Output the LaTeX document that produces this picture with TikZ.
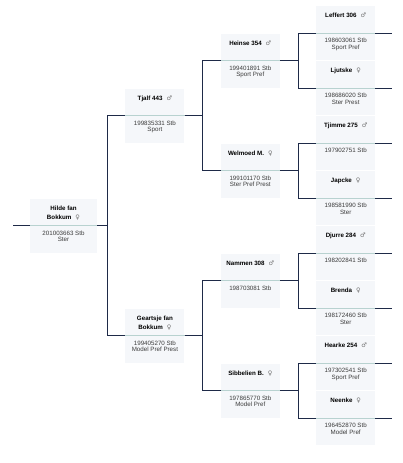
\documentclass[tikz,border=0pt]{standalone}
\usepackage{fontspec}
\setmainfont{Liberation Sans}
\newfontfamily\symfont{DejaVu Sans}
\usetikzlibrary{positioning}
\definecolor{cardbg}{RGB}{245,247,250}
\definecolor{rulecol}{RGB}{184,210,208}
\definecolor{navy}{RGB}{30,42,72}
\definecolor{sexgrey}{RGB}{110,110,110}
\definecolor{subtext}{RGB}{60,60,60}
\newcommand{\sexm}{\hspace{4pt}{\symfont\mdseries\color{sexgrey}♂}}
\newcommand{\sexf}{\hspace{4pt}{\symfont\mdseries\color{sexgrey}♀}}

\begin{document}
\begin{tikzpicture}[x=1pt, y=-1pt,
   card/.style={rectangle, fill=cardbg, minimum width=59pt, minimum height=54pt,
                inner sep=0pt},
   nm/.style={anchor=north, yshift=-4pt, align=center, text=black,
              font=\fontsize{6.2}{9}\selectfont\bfseries},
   sub/.style={anchor=north, yshift=-29pt, align=center, text=subtext,
               font=\fontsize{6.2}{6.2}\selectfont},
   link/.style={draw=navy, line width=0.8pt},
   divider/.style={draw=rulecol, line width=0.8pt}]
  \useasboundingbox (0,0) rectangle (402,463);

  % generation 0
  \coordinate (root) at (13,225.5);
  \node[card, minimum width=67pt, label={[nm]north:Hilde fan\\Bokkum\sexf},
        label={[sub]north:201003663 Stb\\Ster}] (hilde) at (63.5,225.5) {};

  % generation 1
  \node[card, right=28pt of hilde, yshift=110pt, label={[nm]north:Tjalf 443\sexm},
        label={[sub]north:199835331 Stb\\Sport}] (tjalf) {};
  \node[card, right=28pt of hilde, yshift=-110pt, label={[nm]north:Geartsje fan\\Bokkum\sexf},
        label={[sub]north:199405270 Stb\\Model Pref Prest}] (geartsje) {};

  % generation 2
  \node[card, right=36pt of tjalf, yshift=55pt, label={[nm]north:Heinse 354\sexm},
        label={[sub]north:199401891 Stb\\Sport Pref}] (heinse) {};
  \node[card, right=36pt of tjalf, yshift=-55pt, label={[nm]north:Welmoed M.\sexf},
        label={[sub]north:199101170 Stb\\Ster Pref Prest}] (welmoed) {};
  \node[card, right=36pt of geartsje, yshift=55pt, label={[nm]north:Nammen 308\sexm},
        label={[sub]north:198703081 Stb}] (nammen) {};
  \node[card, right=36pt of geartsje, yshift=-55pt, label={[nm]north:Sibbelien B.\sexf},
        label={[sub]north:197865770 Stb\\Model Pref}] (sibbelien) {};

  % generation 3
  \node[card, right=36pt of heinse, yshift=27.5pt, label={[nm]north:Leffert 306\sexm},
        label={[sub]north:198603061 Stb\\Sport Pref}] (leffert) {};
  \node[card, right=36pt of heinse, yshift=-27.5pt, label={[nm]north:Ljutske\sexf},
        label={[sub]north:198686020 Stb\\Ster Prest}] (ljutske) {};
  \node[card, right=36pt of welmoed, yshift=27.5pt, label={[nm]north:Tjimme 275\sexm},
        label={[sub]north:197902751 Stb}] (tjimme) {};
  \node[card, right=36pt of welmoed, yshift=-27.5pt, label={[nm]north:Japcke\sexf},
        label={[sub]north:198581990 Stb\\Ster}] (japcke) {};
  \node[card, right=36pt of nammen, yshift=27.5pt, label={[nm]north:Djurre 284\sexm},
        label={[sub]north:198202841 Stb}] (djurre) {};
  \node[card, right=36pt of nammen, yshift=-27.5pt, label={[nm]north:Brenda\sexf},
        label={[sub]north:198172460 Stb\\Ster}] (brenda) {};
  \node[card, right=36pt of sibbelien, yshift=27.5pt, label={[nm]north:Hearke 254\sexm},
        label={[sub]north:197302541 Stb\\Sport Pref}] (hearke) {};
  \node[card, right=36pt of sibbelien, yshift=-27.5pt, label={[nm]north:Neenke\sexf},
        label={[sub]north:196452870 Stb\\Model Pref}] (neenke) {};

  % dividers inside the cards
  \foreach \n in {hilde,tjalf,geartsje,heinse,welmoed,nammen,sibbelien,
                  leffert,ljutske,tjimme,japcke,djurre,brenda,hearke,neenke}
    \draw[divider] (\n.west) -- (\n.east);

  % connectors
  \draw[link] (root) -- (hilde.west);
  \draw[link] (hilde.east) -- ++(10pt,0) |- (tjalf.west);
  \draw[link] (hilde.east) -- ++(10pt,0) |- (geartsje.west);
  \draw[link] (tjalf.east) -- ++(18pt,0) |- (heinse.west);
  \draw[link] (tjalf.east) -- ++(18pt,0) |- (welmoed.west);
  \draw[link] (geartsje.east) -- ++(18pt,0) |- (nammen.west);
  \draw[link] (geartsje.east) -- ++(18pt,0) |- (sibbelien.west);
  \draw[link] (heinse.east) -- ++(18pt,0) |- (leffert.west);
  \draw[link] (heinse.east) -- ++(18pt,0) |- (ljutske.west);
  \draw[link] (welmoed.east) -- ++(18pt,0) |- (tjimme.west);
  \draw[link] (welmoed.east) -- ++(18pt,0) |- (japcke.west);
  \draw[link] (nammen.east) -- ++(18pt,0) |- (djurre.west);
  \draw[link] (nammen.east) -- ++(18pt,0) |- (brenda.west);
  \draw[link] (sibbelien.east) -- ++(18pt,0) |- (hearke.west);
  \draw[link] (sibbelien.east) -- ++(18pt,0) |- (neenke.west);
  \foreach \n in {leffert,ljutske,tjimme,japcke,djurre,brenda,hearke,neenke}
    \draw[link] (\n.east) -- ++(16.5pt,0);
\end{tikzpicture}
\end{document}
